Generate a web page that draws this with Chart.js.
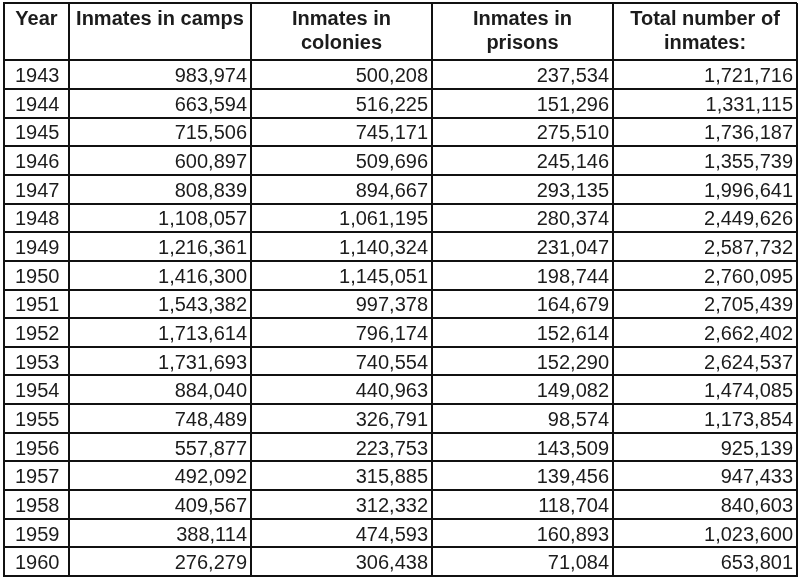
<!DOCTYPE html>
<html lang="en">
<head>
  <meta charset="UTF-8">
  <title>Gulag inmates 1943-1960</title>
  <script src="https://cdn.jsdelivr.net/npm/chart.js"></script>
  <style>
    body { margin: 0; padding: 0; background: #fff; }
    canvas { display: block; }
  </style>
</head>
<body>
  <canvas id="tableChart" width="800" height="583"></canvas>
  <script>
    // table data
    const years = [1943, 1944, 1945, 1946, 1947, 1948, 1949, 1950, 1951, 1952, 1953, 1954, 1955, 1956, 1957, 1958, 1959, 1960];
    const camps = [983974, 663594, 715506, 600897, 808839, 1108057, 1216361, 1416300, 1543382, 1713614, 1731693, 884040, 748489, 557877, 492092, 409567, 388114, 276279];
    const colonies = [500208, 516225, 745171, 509696, 894667, 1061195, 1140324, 1145051, 997378, 796174, 740554, 440963, 326791, 223753, 315885, 312332, 474593, 306438];
    const prisons = [237534, 151296, 275510, 245146, 293135, 280374, 231047, 198744, 164679, 152614, 152290, 149082, 98574, 143509, 139456, 118704, 160893, 71084];
    const totals = [1721716, 1331115, 1736187, 1355739, 1996641, 2449626, 2587732, 2760095, 2705439, 2662402, 2624537, 1474085, 1173854, 925139, 947433, 840603, 1023600, 653801];
    const headers = [['Year'], ['Inmates in camps'], ['Inmates in', 'colonies'], ['Inmates in', 'prisons'], ['Total number of', 'inmates:']];

    // layout: column widths (px-ish units on the x scale), header is 2 row units tall
    const colWidths = [65, 182, 181, 181, 184];
    const colEdges = colWidths.reduce((a, w) => { a.push(a[a.length - 1] + w); return a; }, [0]);
    const headerRows = 2;
    const rowEdges = [0].concat(years.map((_, i) => headerRows + i), [headerRows + years.length]);

    const columns = [years, camps, colonies, prisons, totals];
    const fmt = n => n.toLocaleString('en-US');
    const textColor = '#1c1c1c';
    const lineColor = '#111';
    const fontFamily = '"Liberation Sans", Arial, Helvetica, sans-serif';

    const datasets = columns.map((col, c) => ({
      label: headers[c].join(' '),
      data: col.map((v, i) => ({ x: c === 0 ? colEdges[0] : colEdges[c + 1], y: headerRows + i + 0.5, v: v })),
      pointRadius: 0,
      showLine: false
    }));

    const cellText = {
      id: 'cellText',
      afterDatasetsDraw(chart) {
        const ctx = chart.ctx;
        const xs = chart.scales.x, ys = chart.scales.y;
        ctx.save();
        ctx.fillStyle = textColor;
        ctx.textBaseline = 'alphabetic';

        // header
        ctx.font = 'bold 20px ' + fontFamily;
        ctx.textAlign = 'center';
        const top = ys.getPixelForValue(0);
        headers.forEach((lines, c) => {
          const cx = (xs.getPixelForValue(colEdges[c]) + xs.getPixelForValue(colEdges[c + 1])) / 2;
          lines.forEach((t, l) => ctx.fillText(t, cx, top + 22 + l * 24));
        });

        // body
        ctx.font = '20px ' + fontFamily;
        chart.data.datasets.forEach((ds, c) => {
          const meta = chart.getDatasetMeta(c);
          ctx.textAlign = c === 0 ? 'left' : 'right';
          meta.data.forEach((pt, i) => {
            const v = ds.data[i].v;
            const tx = c === 0 ? pt.x + 11 : pt.x - 4;
            ctx.fillText(c === 0 ? String(v) : fmt(v), tx, pt.y + 7.5);
          });
        });
        ctx.restore();
      }
    };

    new Chart(document.getElementById('tableChart'), {
      type: 'scatter',
      data: { datasets: datasets },
      options: {
        responsive: false,
        animation: false,
        events: [],
        layout: { padding: { left: 4, top: 3, right: 3, bottom: 7 } },
        plugins: { legend: { display: false }, tooltip: { enabled: false } },
        scales: {
          x: {
            type: 'linear',
            min: colEdges[0],
            max: colEdges[colEdges.length - 1],
            afterBuildTicks: s => { s.ticks = colEdges.map(v => ({ value: v })); },
            ticks: { display: false },
            grid: { color: lineColor, lineWidth: 2, drawTicks: false },
            border: { color: lineColor, width: 2 }
          },
          y: {
            type: 'linear',
            reverse: true,
            min: 0,
            max: rowEdges[rowEdges.length - 1],
            afterBuildTicks: s => { s.ticks = rowEdges.map(v => ({ value: v })); },
            ticks: { display: false },
            grid: { color: lineColor, lineWidth: 2, drawTicks: false },
            border: { color: lineColor, width: 2 }
          }
        }
      },
      plugins: [cellText]
    });
  </script>
</body>
</html>
